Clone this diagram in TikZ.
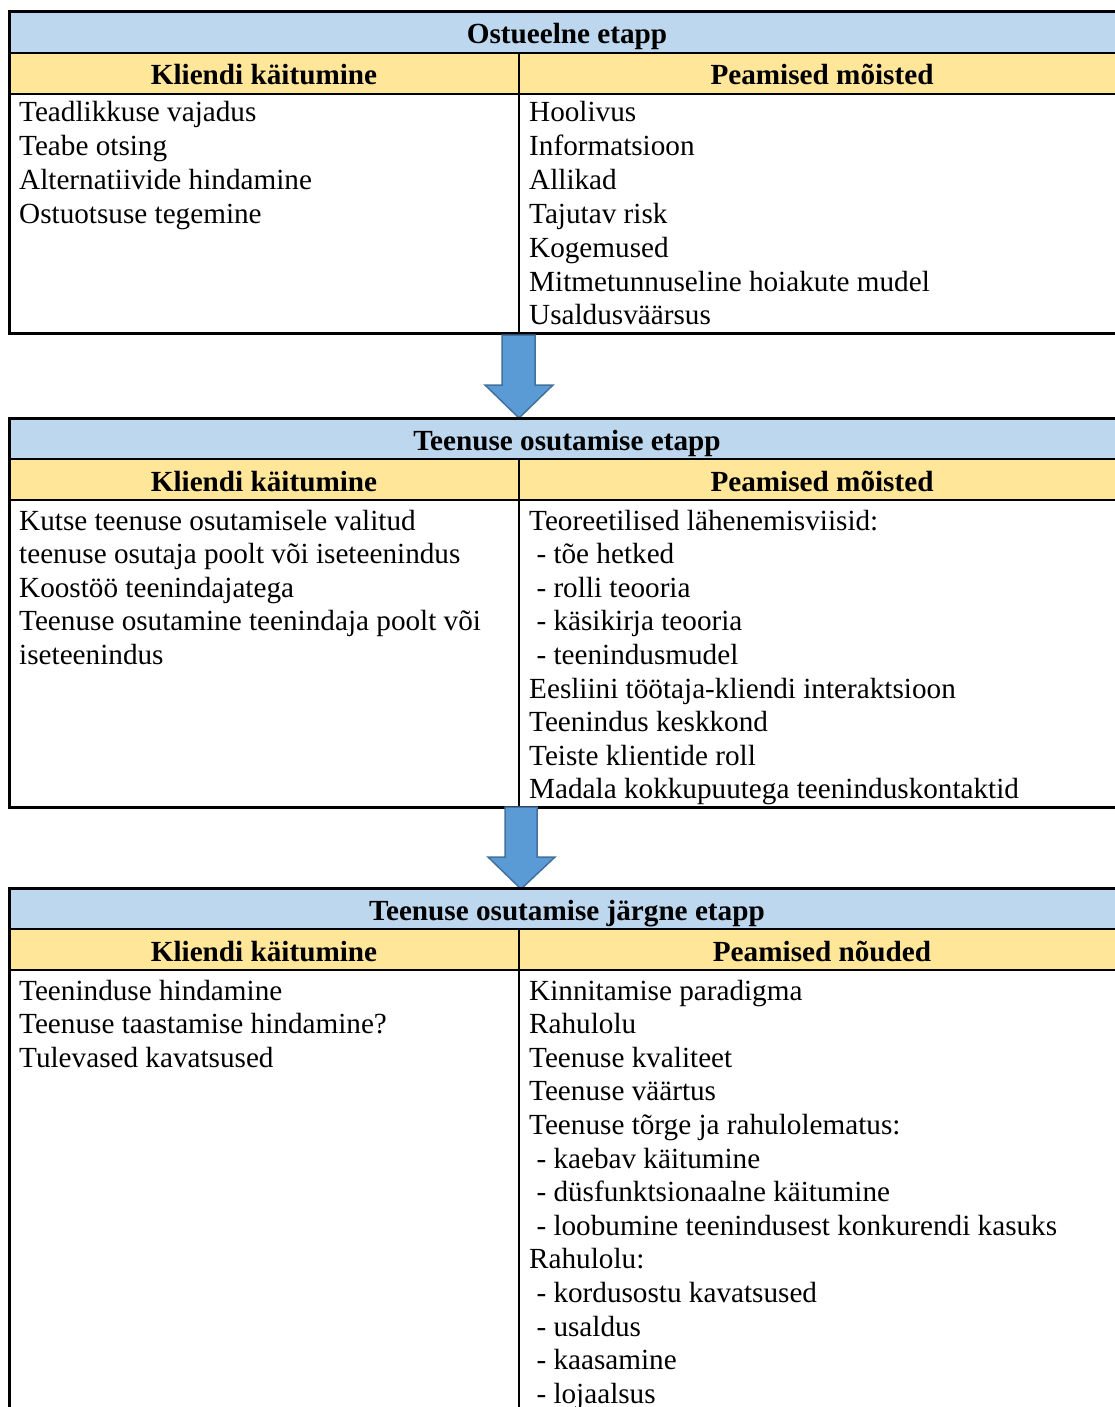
\documentclass[tikz,border=0pt]{standalone}
\usepackage{fontspec}
\setmainfont{Liberation Serif}
\definecolor{hdrblue}{HTML}{BDD7EE}
\definecolor{hdryellow}{HTML}{FFE699}
\definecolor{arrowfill}{HTML}{5B9BD5}
\definecolor{arrowline}{HTML}{41719C}
\tikzset{
  celltext/.style={anchor=base west, inner sep=0pt, font=\fontsize{29.2}{34}\selectfont},
  headtext/.style={anchor=base, inner sep=0pt, font=\fontsize{29.2}{34}\selectfont\bfseries},
  outerframe/.style={line width=3pt},
  rowrule/.style={line width=2.5pt},
  colrule/.style={line width=2pt},
  blockarrow/.style={fill=arrowfill, draw=arrowline, line width=1.5pt, line join=miter},
}
% one stage table: #1 top edge, #2 bottom edge, #3 title, #4 left heading, #5 right heading
\newcommand\stagetable[5]{%
  \fill[hdrblue] (9,#1) rectangle (1125,{#1+41});
  \fill[hdryellow] (9,{#1+41}) rectangle (1125,{#1+82});
  \draw[colrule] (519,{#1+41}) -- (519,#2);
  \draw[rowrule] (9,{#1+41}) -- (1125,{#1+41});
  \draw[rowrule] (9,{#1+82}) -- (1125,{#1+82});
  \draw[outerframe] (9,#1) rectangle (1125,#2);
  \node[headtext] at (567,{#1+32}) {#3};
  \node[headtext] at (264,{#1+73}) {#4};
  \node[headtext] at (822,{#1+73}) {#5};
}
\begin{document}
\begin{tikzpicture}[x=1pt,y=-1pt]
\clip (0,0) rectangle (1115,1407);
\fill[white] (0,0) rectangle (1115,1407);

% ---- stage 1
\stagetable{12}{333}{Ostueelne etapp}{Kliendi käitumine}{Peamised mõisted}
\foreach \t [count=\i from 0] in {Teadlikkuse vajadus, Teabe otsing,
    Alternatiivide hindamine, Ostuotsuse tegemine}
  \node[celltext] at (19,{94+28+33.8*\i}) {\t};
\foreach \t [count=\i from 0] in {Hoolivus, Informatsioon, Allikad, Tajutav risk,
    Kogemused, Mitmetunnuseline hoiakute mudel, Usaldusväärsus}
  \node[celltext] at (529,{94+28+33.8*\i}) {\t};

% ---- arrow 1
\draw[blockarrow] (502,335) -- (535,335) -- (535,385) -- (553,385) -- (519,418)
  -- (485,385) -- (502,385) -- cycle;

% ---- stage 2
\stagetable{418}{807}{Teenuse osutamise etapp}{Kliendi käitumine}{Peamised mõisted}
\foreach \t [count=\i from 0] in {Kutse teenuse osutamisele valitud,
    teenuse osutaja poolt või iseteenindus, Koostöö teenindajatega,
    Teenuse osutamine teenindaja poolt või, iseteenindus}
  \node[celltext] at (19,{501+29+33.6*\i}) {\t};
\foreach \t [count=\i from 0] in {Teoreetilised lähenemisviisid:,
    \ - tõe hetked, \ - rolli teooria, \ - käsikirja teooria, \ - teenindusmudel,
    Eesliini töötaja-kliendi interaktsioon, Teenindus keskkond,
    Teiste klientide roll, Madala kokkupuutega teeninduskontaktid}
  \node[celltext] at (529,{501+29+33.6*\i}) {\t};

% ---- arrow 2
\draw[blockarrow] (505,807) -- (537,807) -- (537,857) -- (555,857) -- (521,889)
  -- (488,857) -- (505,857) -- cycle;

% ---- stage 3
\stagetable{888}{1460}{Teenuse osutamise järgne etapp}{Kliendi käitumine}{Peamised nõuded}
\foreach \t [count=\i from 0] in {Teeninduse hindamine,
    Teenuse taastamise hindamine?, Tulevased kavatsused}
  \node[celltext] at (19,{971+29+33.6*\i}) {\t};
\foreach \t [count=\i from 0] in {Kinnitamise paradigma, Rahulolu,
    Teenuse kvaliteet, Teenuse väärtus, Teenuse tõrge ja rahulolematus:,
    \ - kaebav käitumine, \ - düsfunktsionaalne käitumine,
    \ - loobumine teenindusest konkurendi kasuks, Rahulolu:,
    \ - kordusostu kavatsused, \ - usaldus, \ - kaasamine, \ - lojaalsus}
  \node[celltext] at (529,{971+29+33.6*\i}) {\t};
\end{tikzpicture}
\end{document}
